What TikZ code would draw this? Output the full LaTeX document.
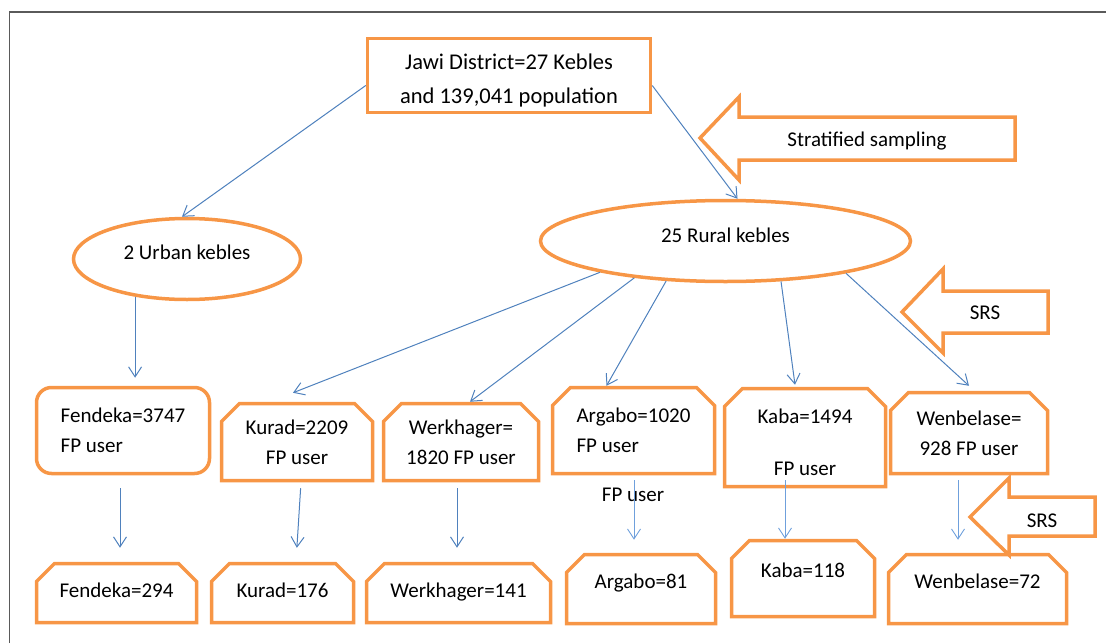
\documentclass[tikz,border=0pt]{standalone}
\usepackage{fontspec}
\setmainfont{Carlito}
\usetikzlibrary{shapes.geometric,shapes.misc,arrows.meta}
\definecolor{boxorange}{HTML}{F79646}
\definecolor{linkblue}{HTML}{4F81BD}
\definecolor{paleblue}{HTML}{6FA0DC}
\definecolor{framegray}{HTML}{5A5A5A}
\tikzset{
  obox/.style={draw=boxorange,line width=3.5pt,inner sep=0pt,align=center},
  snipbox/.style={obox,chamfered rectangle,
    chamfered rectangle corners={north west,north east},
    chamfered rectangle xsep=9pt,chamfered rectangle ysep=9pt},
  oval/.style={obox,ellipse,text depth=14pt},
  bigarrow/.style={draw=boxorange,line width=3.5pt,fill=white,line join=miter},
  link/.style={->,linkblue,line width=1pt},
  thinlink/.style={->,paleblue,line width=0.9pt}
}
\begin{document}
\begin{tikzpicture}[x=1pt,y=-1pt,>={Straight Barb[length=10pt,width=13pt]},
  every node/.style={font=\fontsize{21}{30}\selectfont}]
\useasboundingbox (0,0) rectangle (1106,643);
\draw[framegray,line width=1.5pt] (9.5,643) -- (9.5,12) -- (1106,12);
% top and strata
\node[obox,minimum width=283pt,minimum height=74pt,font=\fontsize{22.5}{30}\selectfont]
  (jawi) at (509,75.5) {\mbox{}\\[-4pt]Jawi District=27 Kebles\\[4pt]and 139,041 population};
\node[oval,minimum width=227pt,minimum height=81pt] (urban) at (187,259) {2 Urban kebles};
\node[oval,minimum width=370pt,minimum height=81pt,text depth=12pt] (rural) at (725.5,241) {25 Rural kebles};
% kebeles
\node[obox,rounded corners=15pt,minimum width=173pt,minimum height=86pt,align=left]
  (fend) at (123,430.5) {Fendeka=3747\\FP user};
\node[snipbox,minimum width=151pt,minimum height=77pt] (kurad) at (297,442) {Kurad=2209\\FP user};
\node[snipbox,minimum width=155pt,minimum height=77pt] (werk) at (461,442) {Werkhager=\\1820 FP user};
\node[snipbox,minimum width=162pt,minimum height=86pt,align=left] (arg) at (633.5,430.5) {Argabo=1020\\FP user};
\node[snipbox,minimum width=161pt,minimum height=98pt] (kaba) at (805,437.5) {\mbox{}\\[-5pt]Kaba=1494\\[22pt]FP user};
\node[snipbox,minimum width=157pt,minimum height=81pt] (wenb) at (969,433) {Wenbelase=\\928 FP user};
\node (argfp) at (633,495) {FP user};
% samples
\node[snipbox,minimum width=160pt,minimum height=59pt,text depth=6pt] (fendS) at (116.5,593) {Fendeka=294};
\node[snipbox,minimum width=142pt,minimum height=59pt,text depth=6pt] (kuradS) at (282.5,593) {Kurad=176};
\node[snipbox,minimum width=184pt,minimum height=59pt,text depth=6pt] (werkS) at (458.5,593) {Werkhager=141};
\node[snipbox,minimum width=149pt,minimum height=69pt,text depth=16pt] (argS) at (641,589) {Argabo=81};
\node[snipbox,minimum width=143pt,minimum height=76pt,text depth=16pt] (kabaS) at (803,578.5) {Kaba=118};
\node[snipbox,minimum width=178pt,minimum height=69pt,text depth=16pt] (wenbS) at (977.5,589) {Wenbelase=72};
% connectors
\draw[link] ([yshift=-10pt]jawi.west) -- ([xshift=-5pt]urban.north);
\draw[link] ([yshift=-10pt]jawi.east) -- ([xshift=12pt]rural.north);
\draw[link] (urban.216) -- (urban.216 |- fend.north) [shorten >=8pt];
\draw[link] (rural.194) -- ([xshift=-4pt,yshift=9pt]kurad.north);
\draw[link] (rural.202) -- ([xshift=9pt]werk.north);
\draw[link] (rural.214) -- ([xshift=-27pt]arg.north);
\draw[link] (rural.324) -- ([xshift=-10pt,yshift=2pt]kaba.north);
\draw[link] (rural.345) -- ([yshift=5pt]wenb.north);
\draw[link,shorten <=13pt,shorten >=14pt] ([xshift=-3pt]fend.south) -- ([xshift=3.5pt]fendS.north);
\draw[link,shorten <=6pt,shorten >=14pt] ([xshift=4pt]kurad.south) -- ([xshift=13.5pt]kuradS.north);
\draw[link,shorten <=6pt,shorten >=14pt] ([xshift=-4pt]werk.south) -- ([xshift=-1.5pt]werkS.north);
\draw[thinlink,shorten <=5pt,shorten >=13pt] ([xshift=0.5pt]arg.south) -- ([xshift=-7pt]argS.north);
\draw[thinlink] ([xshift=-20pt,yshift=8pt]kaba.south) -- ([xshift=-18pt]kabaS.north);
\draw[thinlink,shorten <=5pt,shorten >=13pt] ([xshift=-11pt]wenb.south) -- ([xshift=-19.5pt]wenbS.north);
% sampling arrows
\draw[bigarrow] (700,138) -- (739,97) -- (739,117) -- (1015,117) -- (1015,160) -- (739,160) -- (739,180) -- cycle;
\node (strat) at (867,141) {Stratified sampling};
\draw[bigarrow] (902,312) -- (943,269) -- (943,291) -- (1048,291) -- (1048,333) -- (943,333) -- (943,353) -- cycle;
\node (srsA) at (985,313) {SRS};
\draw[bigarrow] (970,517) -- (1009,478) -- (1009,497) -- (1095,497) -- (1095,536) -- (1009,536) -- (1009,555) -- cycle;
\node (srsB) at (1042,521) {SRS};
\end{tikzpicture}
\end{document}
